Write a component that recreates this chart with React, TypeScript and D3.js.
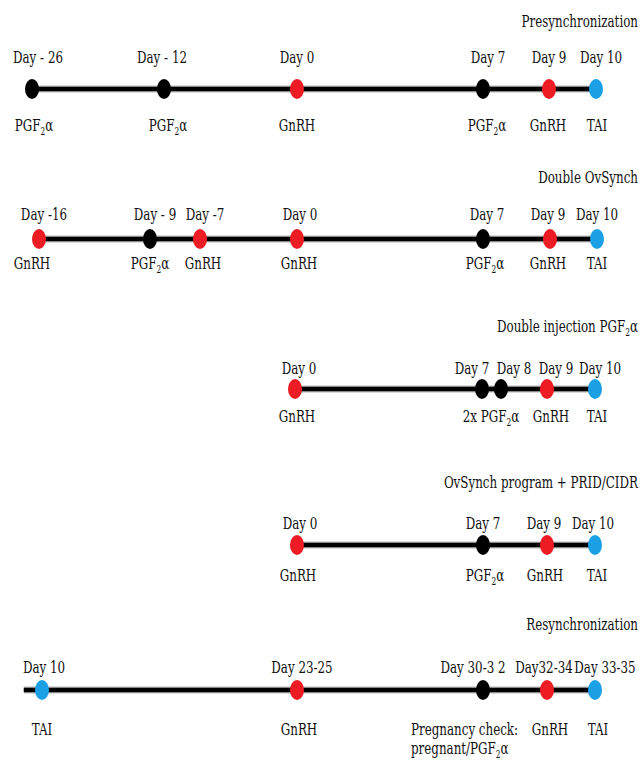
import React from "react";
import * as d3 from "d3";

// ---- data ----
const presyncDays = [-26, -12, 0, 7, 9, 10];
const presyncLabels = ["Day - 26", "Day - 12", "Day 0", "Day 7", "Day 9", "Day 10"];
const presyncAgents = ["PGF2α", "PGF2α", "GnRH", "PGF2α", "GnRH", "TAI"];

const doubleOvDays = [-16, -9, -7, 0, 7, 9, 10];
const doubleOvLabels = ["Day -16", "Day - 9", "Day -7", "Day 0", "Day 7", "Day 9", "Day 10"];
const doubleOvAgents = ["GnRH", "PGF2α", "GnRH", "GnRH", "PGF2α", "GnRH", "TAI"];

const doubleInjDays = [0, 7, 8, 9, 10];
const doubleInjLabels = ["Day 0", "Day 7", "Day 8", "Day 9", "Day 10"];
const doubleInjAgents = ["GnRH", "2x PGF2α", "", "GnRH", "TAI"];
const doubleInjDotAgents = ["GnRH", "PGF2α", "PGF2α", "GnRH", "TAI"];

const ovPridDays = [0, 7, 9, 10];
const ovPridLabels = ["Day 0", "Day 7", "Day 9", "Day 10"];
const ovPridAgents = ["GnRH", "PGF2α", "GnRH", "TAI"];

const resyncDays = [10, 24, 31, 33, 34];
const resyncLabels = ["Day 10", "Day 23-25", "Day 30-3 2", "Day32-34", "Day 33-35"];
const resyncAgents = ["TAI", "GnRH", "Pregnancy check:|pregnant/PGF2α", "GnRH", "TAI"];
const resyncDotAgents = ["TAI", "GnRH", "PGF2α", "GnRH", "TAI"];

const titles = [
  "Presynchronization",
  "Double OvSynch",
  "Double injection PGF2α",
  "OvSynch  program + PRID/CIDR",
  "Resynchronization",
];

// ---- styles / layout ----
const W = 641;
const H = 764;
const colorFor = (a: string) =>
  a.includes("GnRH") ? "#ED1C24" : a.includes("TAI") ? "#1BA0E6" : "#000000";
const FONT = "'DejaVu Serif', serif";
const FS = 17;
const SX = 0.7;

type Row = {
  days: number[];
  labels: string[];
  agents: string[];
  dotAgents: string[];
  range: number[];
  lineStart: number;
  dotY: number;
  titleY: number;
  labelY: number;
  bottomY: number;
  labelNudge: number[];
  agentNudge: number[];
  agentAnchor?: string[];
};

const rows: Row[] = [
  {
    days: presyncDays, labels: presyncLabels, agents: presyncAgents, dotAgents: presyncAgents,
    range: [32, 164, 297, 483, 549, 596], lineStart: -26,
    dotY: 89, titleY: 27, labelY: 63, bottomY: 131,
    labelNudge: [6, -2, 0, 5, 0, 5], agentNudge: [2, 4, 0, 4, -1, 1],
  },
  {
    days: doubleOvDays, labels: doubleOvLabels, agents: doubleOvAgents, dotAgents: doubleOvAgents,
    range: [39, 150, 200, 297, 483, 550, 597], lineStart: -16,
    dotY: 239, titleY: 183, labelY: 220, bottomY: 269,
    labelNudge: [5, 5, 5, 3, 4, -2, 0], agentNudge: [-7, 0, 3, 2, 2, -2, 0],
  },
  {
    days: doubleInjDays, labels: doubleInjLabels, agents: doubleInjAgents, dotAgents: doubleInjDotAgents,
    range: [295, 482, 501, 547, 595], lineStart: 0,
    dotY: 389, titleY: 332, labelY: 374, bottomY: 422,
    labelNudge: [4, -10, 13, 9, 5], agentNudge: [2, 9, 0, 4, 2],
  },
  {
    days: ovPridDays, labels: ovPridLabels, agents: ovPridAgents, dotAgents: ovPridAgents,
    range: [297, 483, 547, 595], lineStart: 0,
    dotY: 545, titleY: 488, labelY: 529, bottomY: 581,
    labelNudge: [3, 0, -3, -2], agentNudge: [1, 2, -2, 2],
  },
  {
    days: resyncDays, labels: resyncLabels, agents: resyncAgents, dotAgents: resyncDotAgents,
    range: [42, 297, 483, 547, 595], lineStart: 9,
    dotY: 690, titleY: 630, labelY: 673, bottomY: 735,
    labelNudge: [2, 5, -10, -3, 10], agentNudge: [0, 2, -72, 3, 3],
    agentAnchor: ["middle", "middle", "start", "middle", "middle"],
  },
];

function renderRich(str: string) {
  const i = str.indexOf("PGF2α");
  if (i < 0) return str;
  const before = str.slice(0, i);
  const after = str.slice(i + 5);
  return (
    <>
      {before}PGF
      <tspan fontSize={FS * 0.62} dy={4}>2</tspan>
      <tspan dy={-4}>α</tspan>
      {after}
    </>
  );
}

function Label({ x, y, text, anchor = "middle" }: { x: number; y: number; text: string; anchor?: string }) {
  return (
    <g transform={`translate(${x},${y}) scale(${SX},1)`}>
      <text textAnchor={anchor} style={{ fontFamily: FONT }} fontSize={FS} fill="#111">
        {renderRich(text)}
      </text>
    </g>
  );
}

export default function App() {
  return (
    <svg width={W} height={H} style={{ position: "absolute", left: 0, top: 0, background: "#fff" }}>
      {rows.map((r, ri) => {
        const x = d3.scaleLinear().domain(r.days).range(r.range);
        const line = d3.line<number>().x((d) => x(d)).y(() => r.dotY);
        const lineData = [r.lineStart, r.days[r.days.length - 1]];
        return (
          <g key={ri}>
            <Label x={638} y={r.titleY} text={titles[ri]} anchor="end" />
            <path d={line(lineData) || ""} stroke="#888" strokeOpacity={0.6} strokeWidth={7} fill="none" />
            <path d={line(lineData) || ""} stroke="#000" strokeWidth={4.5} fill="none" />
            {r.days.map((d, i) => (
              <ellipse key={"e" + i} cx={x(d)} cy={r.dotY} rx={7} ry={10} fill={colorFor(r.dotAgents[i])} />
            ))}
            {r.days.map((d, i) => (
              <Label key={"l" + i} x={x(d) + r.labelNudge[i]} y={r.labelY} text={r.labels[i]} />
            ))}
            {r.days.map((d, i) => {
              const a = r.agents[i];
              if (!a) return null;
              const anchor = r.agentAnchor ? r.agentAnchor[i] : "middle";
              const parts = a.split("|");
              return parts.map((p, j) => (
                <Label
                  key={"a" + i + "_" + j}
                  x={x(d) + r.agentNudge[i]}
                  y={r.bottomY + j * 19}
                  text={p}
                  anchor={anchor}
                />
              ));
            })}
          </g>
        );
      })}
    </svg>
  );
}
